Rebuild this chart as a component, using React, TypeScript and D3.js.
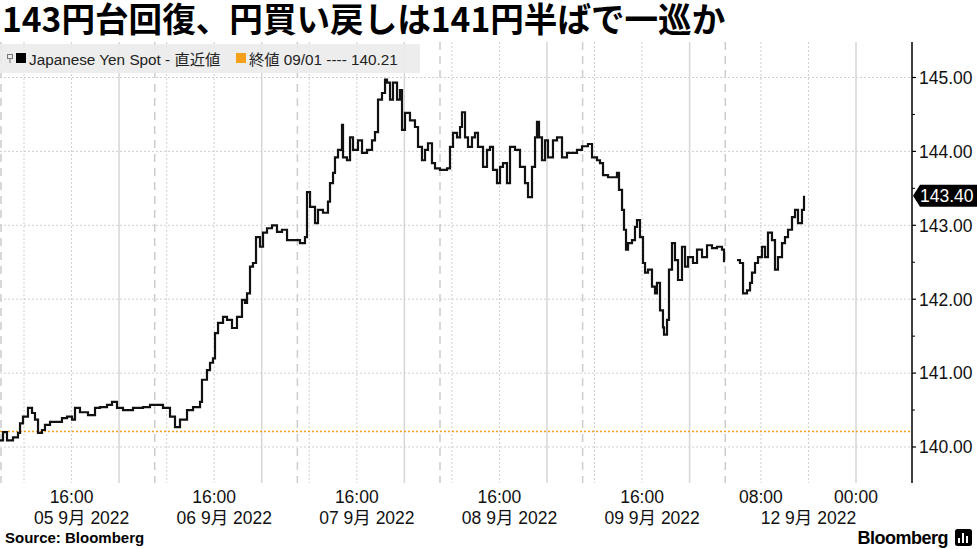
import React from 'react';
import * as d3 from 'd3';

// ---------- data ----------
const TITLE = '143円台回復、円買い戻しは141円半ばで一巡か';
const SERIES_NAME = 'Japanese Yen Spot - 直近値';
const REF_LABEL = '終値 09/01 ---- 140.21';
const REF_VALUE = 140.21;
const LAST_VALUE = 143.4;
const SOURCE = 'Source: Bloomberg';

// hours since 05 Sep 2022 00:00 (weekend gap removed)
const weekHours = [3.96, 4.47, 5.14, 6.15, 6.99, 7.33, 7.83, 8.67, 9.35, 9.85, 10.36, 11.03, 11.53, 12.38, 13.55, 14.39, 15.24, 16.08, 16.58, 17.42, 18.77, 19.95, 20.79, 21.97, 22.81, 23.65, 24.66, 26.34, 28.02, 29.2, 30.04, 31.39, 32.57, 33.41, 34.25, 35.43, 36.44, 37.62, 37.95, 38.79, 39.3, 39.8, 40.14, 40.65, 41.49, 42.16, 43.0, 43.84, 44.68, 45.19, 45.53, 46.03, 46.53, 47.04, 47.71, 48.22, 48.89, 49.73, 50.57, 51.41, 52.26, 53.26, 54.44, 55.28, 55.62, 56.13, 56.97, 57.47, 58.31, 59.15, 59.49, 60.0, 60.33, 60.84, 61.51, 61.68, 62.35, 62.86, 63.36, 64.2, 64.88, 65.72, 66.56, 67.06, 67.57, 68.24, 68.75, 69.08, 69.59, 70.09, 70.77, 71.27, 71.61, 72.11, 72.95, 73.79, 74.3, 74.97, 75.48, 75.98, 76.65, 77.16, 78.0, 79.18, 79.68, 80.19, 80.86, 81.37, 81.7, 82.21, 82.71, 83.38, 83.89, 84.39, 85.24, 85.91, 86.41, 86.92, 87.59, 88.1, 88.6, 89.27, 89.78, 90.62, 91.46, 92.3, 92.81, 93.48, 93.99, 94.32, 94.66, 95.16, 95.67, 96.17, 97.01, 97.69, 98.53, 99.37, 100.21, 101.05, 101.9, 102.9, 103.58, 104.42, 104.92, 105.43, 106.27, 107.11, 107.78, 108.12, 108.63, 108.96, 109.3, 109.64, 110.31, 110.81, 111.15, 111.65, 112.16, 112.5, 113.0, 113.67, 114.18, 114.51, 115.02, 115.52, 115.69, 116.2, 116.53, 117.04, 117.54, 118.05, 118.72, 119.23, 119.73, 120.57, 121.25, 122.09, 122.93, 123.77, 124.61, 125.45, 125.79];
const weekPrices = [140.09, 140.2, 140.09, 140.13, 140.19, 140.32, 140.41, 140.53, 140.46, 140.37, 140.19, 140.23, 140.3, 140.34, 140.34, 140.39, 140.41, 140.37, 140.53, 140.47, 140.43, 140.53, 140.54, 140.57, 140.61, 140.53, 140.5, 140.53, 140.54, 140.57, 140.57, 140.53, 140.41, 140.27, 140.37, 140.5, 140.54, 140.61, 140.91, 141.04, 141.14, 141.2, 141.54, 141.68, 141.76, 141.72, 141.61, 141.76, 141.99, 141.95, 142.08, 142.44, 142.49, 142.84, 142.71, 142.9, 142.96, 143.0, 142.91, 142.94, 142.8, 142.8, 142.76, 142.84, 143.45, 143.25, 143.03, 143.21, 143.17, 143.32, 143.57, 143.71, 143.92, 144.02, 144.36, 143.92, 143.88, 144.19, 144.02, 144.15, 143.98, 144.02, 144.15, 144.26, 144.7, 144.79, 144.97, 144.93, 144.7, 144.93, 144.7, 144.83, 144.29, 144.52, 144.42, 144.33, 144.06, 143.88, 144.02, 144.11, 143.84, 143.77, 143.75, 143.77, 144.06, 144.25, 144.19, 144.33, 144.53, 144.19, 144.06, 144.19, 144.25, 144.06, 143.79, 144.02, 144.06, 143.75, 143.57, 143.79, 143.84, 143.57, 144.06, 144.02, 143.79, 143.57, 143.38, 143.79, 144.19, 144.4, 144.19, 143.88, 144.15, 143.92, 144.15, 144.19, 143.92, 143.98, 143.98, 144.02, 144.07, 144.1, 143.92, 143.88, 143.84, 143.68, 143.65, 143.65, 143.71, 143.48, 143.21, 142.94, 142.67, 142.76, 142.8, 142.98, 143.07, 142.84, 142.49, 142.36, 142.4, 142.17, 142.08, 142.22, 141.85, 141.62, 141.52, 141.72, 142.4, 142.76, 142.53, 142.26, 142.71, 142.44, 142.57, 142.49, 142.67, 142.57, 142.73, 142.69, 142.71, 142.67, 142.5];

const mondayHours = [127.97, 128.48, 128.99, 129.66, 130.17, 130.5, 131.01, 131.51, 132.18, 132.69, 133.19, 133.86, 134.37, 134.87, 135.55, 136.05, 136.56, 137.23, 137.74, 138.24, 138.91, 139.25];
const mondayPrices = [142.53, 142.49, 142.08, 142.12, 142.22, 142.36, 142.49, 142.57, 142.71, 142.57, 142.9, 142.8, 142.4, 142.57, 142.76, 142.84, 142.94, 143.11, 143.21, 143.03, 143.21, 143.4];

const yTicks = [140, 141, 142, 143, 144, 145];
const yMinorTicks = [140.5, 141.5, 142.5, 143.5, 144.5];

const timeTickHours = [16, 40, 64, 88, 112, 132, 148];
const timeTickLabels = ['16:00', '16:00', '16:00', '16:00', '16:00', '08:00', '00:00'];
const dateLabelHours = [17.7, 41.7, 65.7, 89.7, 113.7, 140];
const dateLabels = ['05 9月 2022', '06 9月 2022', '07 9月 2022', '08 9月 2022', '09 9月 2022', '12 9月 2022'];

const dottedHours = [8, 16, 32, 40, 56, 64, 80, 88, 104, 112, 132, 140];
const solidHours = [24, 48, 72, 96, 120, 148];
const dashedHours = [30, 54, 78, 102, 126];

// ---------- chart ----------
const W = 977;
const H = 549;
const PLOT_TOP = 42;
const PLOT_BOTTOM = 483;
const AXIS_X = 912;
const FONT = "'Liberation Sans', 'Noto Sans CJK JP', sans-serif";
const ORANGE = '#f5a11c';
const GRID = '#cfcfcf';

export default function App() {
  const x = d3.scaleLinear().domain([8, 148]).range([24, 856]);
  const y = d3.scaleLinear().domain([140, 145]).range([447, 77.5]);

  const line = d3
    .line<[number, number]>()
    .x((d) => x(d[0]))
    .y((d) => y(d[1]))
    .curve(d3.curveStepAfter);

  const seg1 = d3.zip(weekHours, weekPrices) as [number, number][];
  const seg2 = d3.zip(mondayHours, mondayPrices) as [number, number][];

  const ly = y(LAST_VALUE);

  return (
    <svg
      width={W}
      height={H}
      viewBox={`0 0 ${W} ${H}`}
      style={{ position: 'absolute', left: 0, top: 0, background: '#fff' }}
    >
      <defs>
        <clipPath id="plotClip">
          <rect x={0} y={PLOT_TOP} width={AXIS_X} height={PLOT_BOTTOM - PLOT_TOP} />
        </clipPath>
      </defs>

      {/* title */}
      <text x={2} y={32} fontFamily="'Noto Sans CJK JP', sans-serif" fontWeight={700} fontSize={33.6} fill="#000">
        {TITLE}
      </text>

      {/* horizontal grid */}
      {yTicks.map((t) => (
        <line key={'hg' + t} x1={0} x2={AXIS_X} y1={y(t)} y2={y(t)} stroke={GRID} strokeWidth={1} strokeDasharray="2,2" />
      ))}

      {/* vertical grid */}
      {dottedHours.map((h) => (
        <line key={'vd' + h} x1={x(h)} x2={x(h)} y1={PLOT_TOP} y2={PLOT_BOTTOM} stroke={GRID} strokeWidth={1} strokeDasharray="2,2" />
      ))}
      {solidHours.map((h) => (
        <line key={'vs' + h} x1={x(h)} x2={x(h)} y1={PLOT_TOP} y2={PLOT_BOTTOM} stroke="#d6d6d6" strokeWidth={1.5} />
      ))}
      {dashedHours.map((h) => (
        <line key={'vda' + h} x1={x(h)} x2={x(h)} y1={PLOT_TOP} y2={PLOT_BOTTOM} stroke="#cccccc" strokeWidth={1.5} strokeDasharray="8,6" />
      ))}
      <line x1={1} x2={1} y1={PLOT_TOP} y2={PLOT_BOTTOM} stroke="#cccccc" strokeWidth={1.5} strokeDasharray="8,6" />

      {/* reference line */}
      <line x1={0} x2={AXIS_X} y1={y(REF_VALUE)} y2={y(REF_VALUE)} stroke={ORANGE} strokeWidth={1.6} strokeDasharray="2,2" />

      {/* series */}
      <g clipPath="url(#plotClip)">
        <path d={line(seg1) || ''} fill="none" stroke="#111" strokeWidth={2.2} strokeLinejoin="miter" />
        <path d={line(seg2) || ''} fill="none" stroke="#111" strokeWidth={2.2} strokeLinejoin="miter" />
      </g>

      {/* legend */}
      <rect x={0} y={44} width={420} height={29} fill="#ebebeb" fillOpacity={0.9} />
      <g stroke="#777" strokeWidth={1} fill="none">
        <rect x={7.5} y={54.5} width={5} height={4} />
        <line x1={10} x2={10} y1={58.5} y2={63} />
      </g>
      <rect x={16} y={53} width={10} height={10} fill="#000" />
      <text x={29} y={65} fontFamily={FONT} fontSize={15.3} fill="#222">
        {SERIES_NAME}
      </text>
      <rect x={236} y={53} width={10} height={10} fill={ORANGE} />
      <text x={249} y={65} fontFamily={FONT} fontSize={15.3} fill="#222">
        {REF_LABEL}
      </text>

      {/* right axis */}
      <line x1={AXIS_X} x2={AXIS_X} y1={PLOT_TOP} y2={PLOT_BOTTOM} stroke="#000" strokeWidth={1.5} />
      {yTicks.map((t) => (
        <g key={'yt' + t}>
          <line x1={AXIS_X} x2={AXIS_X + 4} y1={y(t)} y2={y(t)} stroke="#000" strokeWidth={1.2} />
          <text x={919} y={y(t)} dy="0.36em" fontFamily={FONT} fontSize={17.5} fill="#111">
            {t.toFixed(2)}
          </text>
        </g>
      ))}
      {yMinorTicks.map((t) => (
        <line key={'ym' + t} x1={AXIS_X} x2={AXIS_X + 3} y1={y(t)} y2={y(t)} stroke="#000" strokeWidth={1} />
      ))}

      {/* last value marker */}
      <path
        d={`M${AXIS_X + 1},${ly} L${AXIS_X + 8},${ly - 11} L${W},${ly - 11} L${W},${ly + 11} L${AXIS_X + 8},${ly + 11} Z`}
        fill="#000"
      />
      <text x={920} y={ly} dy="0.36em" fontFamily={FONT} fontSize={17.5} fill="#fff">
        {LAST_VALUE.toFixed(2)}
      </text>

      {/* x axis labels */}
      {timeTickHours.map((h, i) => (
        <text key={'xt' + i} x={x(h)} y={503} textAnchor="middle" fontFamily={FONT} fontSize={17.5} fill="#111">
          {timeTickLabels[i]}
        </text>
      ))}
      {dateLabelHours.map((h, i) => (
        <text key={'xd' + i} x={x(h)} y={524} textAnchor="middle" fontFamily={FONT} fontSize={17.5} fill="#111">
          {dateLabels[i]}
        </text>
      ))}

      {/* footer */}
      <text x={5} y={543} fontFamily={FONT} fontWeight={700} fontSize={15} fill="#000">
        {SOURCE}
      </text>
      <text x={948} y={544} textAnchor="end" fontFamily={FONT} fontWeight={700} fontSize={18} letterSpacing={-0.5} fill="#000">
        Bloomberg
      </text>
      <rect x={955} y={529} width={17} height={17} rx={2.5} fill="#000" />
      <g fill="#fff">
        <rect x={958} y={538} width={2} height={5} />
        <rect x={962} y={533} width={2} height={10} />
        <rect x={966} y={536} width={2} height={7} />
      </g>
    </svg>
  );
}
